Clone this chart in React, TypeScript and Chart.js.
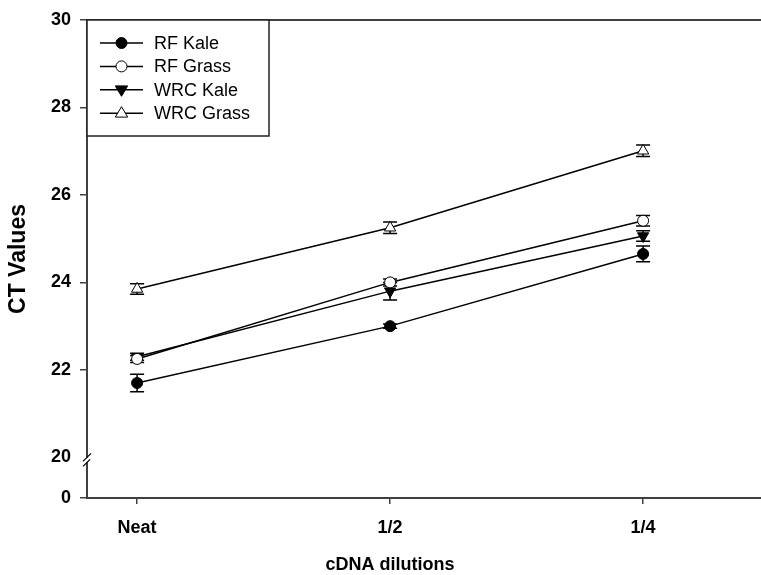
import React, { useEffect, useRef } from "react";
import { Chart, registerables } from "chart.js";

Chart.register(...registerables);

const categories = ["Neat", "1/2", "1/4"];
const seriesNames = ["RF Kale", "RF Grass", "WRC Kale", "WRC Grass"];
const rfKale = [21.7, 23.0, 24.65];
const rfKaleErr = [0.2, 0.05, 0.18];
const rfGrass = [22.25, 24.0, 25.41];
const rfGrassErr = [0.08, 0.08, 0.12];
const wrcKale = [22.3, 23.8, 25.06];
const wrcKaleErr = [0.08, 0.2, 0.12];
const wrcGrass = [23.85, 25.25, 27.01];
const wrcGrassErr = [0.12, 0.13, 0.13];
const yTickValues = [20, 22, 24, 26, 28, 30];
const yBreakBottom = 19.07; // where the "0" tick sits below the axis break
const yZeroLabel = "0";
const xTitle = "cDNA dilutions";
const yTitle = "CT Values";

const FONT = "'Liberation Sans', Arial, Helvetica, sans-serif";
const AXIS = "#404040";

type Marker = { style: "circle" | "triangle"; rotation: number; fill: string };
const markers: Marker[] = [
  { style: "circle", rotation: 0, fill: "#000" },
  { style: "circle", rotation: 0, fill: "#fff" },
  { style: "triangle", rotation: 180, fill: "#000" },
  { style: "triangle", rotation: 0, fill: "#fff" },
];

function drawMarker(ctx: CanvasRenderingContext2D, m: Marker, x: number, y: number) {
  ctx.save();
  ctx.fillStyle = m.fill;
  ctx.strokeStyle = "#000";
  ctx.lineWidth = 1;
  ctx.beginPath();
  if (m.style === "circle") {
    ctx.arc(x, y, 5.5, 0, Math.PI * 2);
  } else {
    const r = 6.5;
    const dir = m.rotation === 180 ? -1 : 1;
    ctx.moveTo(x, y - dir * r);
    ctx.lineTo(x - r * 0.95, y + dir * r * 0.6);
    ctx.lineTo(x + r * 0.95, y + dir * r * 0.6);
    ctx.closePath();
  }
  ctx.fill();
  ctx.stroke();
  ctx.restore();
}

const errorBarPlugin = {
  id: "errorBars",
  beforeDatasetsDraw(chart: any) {
    const ctx = chart.ctx;
    const ys = chart.scales.y;
    ctx.save();
    ctx.strokeStyle = "#000";
    ctx.lineWidth = 1.5;
    chart.data.datasets.forEach((ds: any, di: number) => {
      const meta = chart.getDatasetMeta(di);
      meta.data.forEach((pt: any, i: number) => {
        const v = ds.data[i].y;
        const e = ds.errors[i];
        const x = pt.x;
        const y1 = ys.getPixelForValue(v - e);
        const y2 = ys.getPixelForValue(v + e);
        ctx.beginPath();
        ctx.moveTo(x, y1);
        ctx.lineTo(x, y2);
        ctx.moveTo(x - 7, y1);
        ctx.lineTo(x + 7, y1);
        ctx.moveTo(x - 7, y2);
        ctx.lineTo(x + 7, y2);
        ctx.stroke();
      });
    });
    ctx.restore();
  },
};

const framePlugin = {
  id: "frame",
  afterDraw(chart: any) {
    const ctx = chart.ctx;
    const { left, right, top } = chart.chartArea;
    const ys = chart.scales.y;
    ctx.save();
    // top line
    ctx.strokeStyle = AXIS;
    ctx.lineWidth = 2;
    ctx.beginPath();
    ctx.moveTo(left - 1, top);
    ctx.lineTo(right, top);
    ctx.stroke();
    // axis break at 20
    const y20 = ys.getPixelForValue(20);
    ctx.fillStyle = "#fff";
    ctx.fillRect(left - 2, y20 + 0.5, 4, 4.5);
    ctx.strokeStyle = "#000";
    ctx.lineWidth = 1.2;
    ctx.beginPath();
    ctx.moveTo(left - 4, y20 + 4);
    ctx.lineTo(left + 4, y20 - 4);
    ctx.moveTo(left - 4, y20 + 9);
    ctx.lineTo(left + 3, y20 + 2);
    ctx.stroke();

    // x axis title
    ctx.fillStyle = "#000";
    ctx.font = `bold 18px ${FONT}`;
    ctx.textAlign = "center";
    ctx.textBaseline = "middle";
    ctx.fillText(xTitle, 390, 565);

    // legend
    const bx = left, by = top, bw = 182, bh = 116;
    ctx.fillStyle = "#fff";
    ctx.fillRect(bx, by, bw, bh);
    ctx.strokeStyle = "#222";
    ctx.lineWidth = 1.5;
    ctx.strokeRect(bx, by, bw, bh);
    ctx.font = `18px ${FONT}`;
    ctx.textBaseline = "middle";
    ctx.textAlign = "left";
    seriesNames.forEach((name, i) => {
      const ry = by + 23 + i * 23.4;
      ctx.strokeStyle = "#000";
      ctx.lineWidth = 1.5;
      ctx.beginPath();
      ctx.moveTo(bx + 13, ry);
      ctx.lineTo(bx + 56, ry);
      ctx.stroke();
      drawMarker(ctx, markers[i], bx + 34.5, ry);
      ctx.fillStyle = "#000";
      ctx.fillText(name, bx + 67, ry + 1);
    });
    ctx.restore();
  },
};

export default function App() {
  const ref = useRef<HTMLCanvasElement | null>(null);
  useEffect(() => {
    if (!ref.current) return;
    const series = [rfKale, rfGrass, wrcKale, wrcGrass];
    const errs = [rfKaleErr, rfGrassErr, wrcKaleErr, wrcGrassErr];
    const datasets = series.map((vals, si) => ({
      label: seriesNames[si],
      data: vals.map((v, i) => ({ x: i, y: v })),
      errors: errs[si],
      borderColor: "#000",
      borderWidth: 1.5,
      backgroundColor: markers[si].fill,
      pointBackgroundColor: markers[si].fill,
      pointBorderColor: "#000",
      pointBorderWidth: 1,
      pointStyle: markers[si].style,
      pointRotation: markers[si].rotation,
      pointRadius: markers[si].style === "circle" ? 5.5 : 6.5,
      tension: 0,
      fill: false,
    }));
    const chart = new Chart(ref.current, {
      type: "line",
      data: { datasets } as any,
      options: {
        animation: false,
        responsive: false,
        devicePixelRatio: 1,
        layout: { autoPadding: false, padding: { left: 0, right: 0, top: 20, bottom: 0 } },
        plugins: { legend: { display: false }, tooltip: { enabled: false } },
        scales: {
          x: {
            type: "linear",
            min: -0.198,
            max: 2.466,
            afterBuildTicks: (s: any) => {
              s.ticks = categories.map((_, i) => ({ value: i }));
            },
            afterFit: (s: any) => {
              s.height = 77;
            },
            ticks: {
              callback: (v: any) => categories[Math.round(Number(v))] ?? "",
              font: { family: FONT, size: 18, weight: "bold" },
              color: "#000",
              padding: 13,
              maxRotation: 0,
            },
            grid: { drawOnChartArea: false, tickLength: 6, color: AXIS, lineWidth: 1.5 },
            border: { color: AXIS, width: 2 },
          },
          y: {
            type: "linear",
            min: yBreakBottom,
            max: 30,
            afterBuildTicks: (s: any) => {
              s.ticks = [yBreakBottom, ...yTickValues].map((v) => ({ value: v }));
            },
            afterFit: (s: any) => {
              s.width = 87;
            },
            ticks: {
              callback: (v: any) => (Number(v) < 19.5 ? yZeroLabel : String(v)),
              font: { family: FONT, size: 18, weight: "bold" },
              color: "#000",
              padding: 9,
            },
            grid: {
              drawOnChartArea: false,
              tickLength: 7,
              lineWidth: 1.5,
              color: (c: any) => (c.tick && c.tick.value === 20 ? "rgba(0,0,0,0)" : AXIS),
            },
            border: { color: AXIS, width: 2 },
            title: {
              display: true,
              text: yTitle,
              font: { family: FONT, size: 23, weight: "bold", lineHeight: 1 },
              color: "#000",
              padding: { top: 7, bottom: 0 },
            },
          },
        },
      } as any,
      plugins: [errorBarPlugin, framePlugin],
    });
    return () => chart.destroy();
  }, []);
  return (
    <div style={{ position: "fixed", left: 0, top: 0, width: 761, height: 575, background: "#fff" }}>
      <canvas ref={ref} width={761} height={575} style={{ width: 761, height: 575, display: "block" }} />
    </div>
  );
}
